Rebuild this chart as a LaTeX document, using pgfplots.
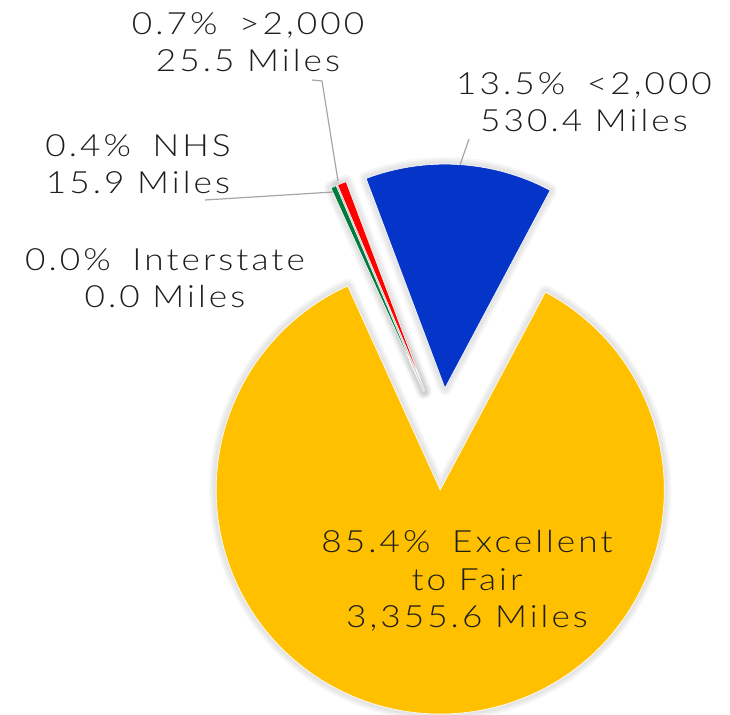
\documentclass[border=0pt]{standalone}
\usepackage{fontspec}
\setmainfont{Lato}[UprightFont=* Light, FakeStretch=1.15, LetterSpace=10]
\usepackage{pgfplots}
\usepackage{pgfplotstable}
\pgfplotsset{compat=1.18}
\usetikzlibrary{calc}
\definecolor{cyel}{HTML}{FFC000}
\definecolor{cblue}{HTML}{0535C8}
\definecolor{cred}{HTML}{FF0000}
\definecolor{cgreen}{HTML}{007A3D}
\definecolor{ctext}{HTML}{1E1E1E}
\pgfplotstableread[col sep=comma]{
name,miles,explode,color
Interstate,0.0,46,cgreen
NHS,15.9,46,cgreen
Over2000,25.5,46,cred
Under2000,530.4,46,cblue
ExcellentFair,3355.6,56,cyel
}\piedata
% draws all wedges; #1 = 0 shadow pass, 1 fill pass
\newcommand\piepass[1]{%
  \gdef\cum{-24.41}%
  \foreach \i in {0,...,4}{
    \pgfplotstablegetelem{\i}{miles}\of\piedata \let\v\pgfplotsretval
    \pgfplotstablegetelem{\i}{explode}\of\piedata \let\ex\pgfplotsretval
    \pgfplotstablegetelem{\i}{color}\of\piedata \let\col\pgfplotsretval
    \pgfmathsetmacro\pa{\cum}
    \pgfmathsetmacro\pb{\cum+\v/\total*360}
    \pgfmathsetmacro\a{90-\pa}
    \pgfmathsetmacro\b{90-\pb}
    \pgfmathsetmacro\m{(\a+\b)/2}
    \pgfmathsetmacro\exr{\ex*0.5}
    \ifdim \v pt>0pt
      \ifnum#1=0
        \foreach \w in {7,5,3}{
          \draw[black, opacity=0.035, line width=\w bp, line join=round]
            ($(axis cs:442,434)+(\m:\exr bp)$) -- +(\a:112bp)
            arc[start angle=\a, end angle=\b, radius=112bp] -- cycle;
        }
      \else
        \fill[\col, draw=white, line width=0.3bp]
          ($(axis cs:442,434)+(\m:\exr bp)$) -- +(\a:112bp)
          arc[start angle=\a, end angle=\b, radius=112bp] -- cycle;
      \fi
    \fi
    \xdef\cum{\pb}
  }%
}
\begin{document}
\begin{tikzpicture}
\begin{axis}[
  x=0.5bp, y=0.5bp,
  xmin=0, xmax=730, ymin=0, ymax=715,
  y dir=reverse,
  hide axis, clip=false,
]
\pgfplotsextra{
  \gdef\total{0}
  \foreach \i in {0,...,4}{
    \pgfplotstablegetelem{\i}{miles}\of\piedata
    \pgfmathsetmacro\t{\total+\pgfplotsretval}
    \xdef\total{\t}
  }
  \piepass{0}
  \piepass{1}
}
% leader lines
\draw[gray!70, line width=0.6bp] (axis cs:312,80) -- (axis cs:322,81) -- (axis cs:338,181);
\draw[gray!70, line width=0.6bp] (axis cs:205,200) -- (axis cs:333,192);
\draw[gray!70, line width=0.6bp] (axis cs:469,139) -- (axis cs:460,165);
% labels
\newcommand\gap{\ \hspace{4.5bp}}
\tikzset{lbl/.style={align=center, text=ctext, inner sep=0pt, font=\fontsize{15.3bp}{18.8bp}\selectfont}}
\node[lbl] at (axis cs:248,42) {0.7\%\gap>2,000\\25.5 Miles};
\node[lbl] at (axis cs:584,102) {13.5\%\gap<2,000\\530.4 Miles};
\node[lbl] at (axis cs:138,164) {0.4\%\gap NHS\\15.9 Miles};
\node[lbl] at (axis cs:165,278) {0.0\%\gap Interstate\\0.0 Miles};
\node[lbl] at (axis cs:467,581) {85.4\%\gap Excellent\\to Fair\\3,355.6 Miles};
\end{axis}
\pgfresetboundingbox
\path[use as bounding box] (current axis.south west) rectangle (current axis.north east);
\end{tikzpicture}
\end{document}
